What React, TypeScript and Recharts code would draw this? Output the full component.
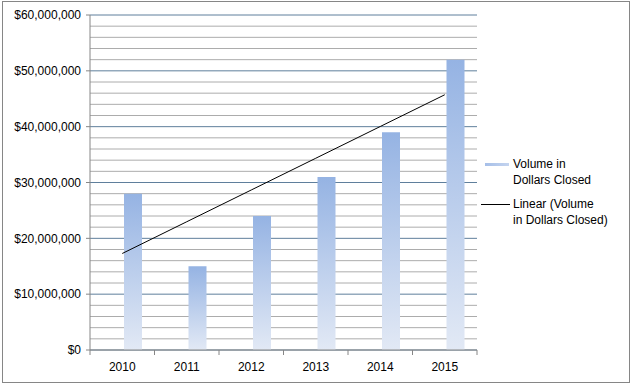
import { ComposedChart, Bar, Line, XAxis, YAxis, CartesianGrid } from "recharts";

const years = ["2010", "2011", "2012", "2013", "2014", "2015"];
const volumes = [28000000, 15000000, 24000000, 31000000, 39000000, 52000000];
const majorTicks = [0, 10000000, 20000000, 30000000, 40000000, 50000000, 60000000];
const minorTicks = [
  2000000, 4000000, 6000000, 8000000, 12000000, 14000000, 16000000, 18000000,
  22000000, 24000000, 26000000, 28000000, 32000000, 34000000, 36000000, 38000000,
  42000000, 44000000, 46000000, 48000000, 52000000, 54000000, 56000000, 58000000,
];

// excel style linear trendline (least squares over category index)
function linearTrend(values: number[]) {
  const n = values.length;
  const mx = (n + 1) / 2;
  const my = values.reduce((a, b) => a + b, 0) / n;
  let sxy = 0;
  let sxx = 0;
  values.forEach((v, i) => {
    sxy += (i + 1 - mx) * (v - my);
    sxx += (i + 1 - mx) * (i + 1 - mx);
  });
  const slope = sxy / sxx;
  return values.map((_, i) => my + slope * (i + 1 - mx));
}

const trend = linearTrend(volumes);
const data = years.map((year, i) => ({ year, volume: volumes[i], trend: trend[i] }));

const FONT = "'Liberation Sans', Arial, sans-serif";
const AXIS = "#868686";

const money = (v: number) => "$" + v.toLocaleString("en-US");

// label in the middle of the band, tick marks on the band edges like excel
function YearTick(props: any) {
  const { x, y, payload, index } = props;
  const half = payload?.offset ?? 0;
  return (
    <g>
      <line x1={x - half} x2={x - half} y1={y} y2={y + 5} stroke={AXIS} />
      {index === years.length - 1 && <line x1={x + half} x2={x + half} y1={y} y2={y + 5} stroke={AXIS} />}
      <text x={x} y={y + 21} textAnchor="middle" fill="#000" fontSize={12} fontFamily={FONT}>
        {payload.value}
      </text>
    </g>
  );
}

export default function App() {
  return (
    <div style={{ position: "absolute", left: 0, top: 0, width: 631, height: 385, background: "#fff" }}>
      <div
        style={{
          position: "absolute",
          left: 2,
          top: 1,
          width: 628,
          height: 382,
          boxSizing: "border-box",
          border: `1px solid ${AXIS}`,
        }}
      />
      <div style={{ position: "absolute", left: 0, top: 0 }}>
        <ComposedChart width={631} height={385} data={data} margin={{ top: 15, right: 154, bottom: 0, left: 0 }}>
          <defs>
            <linearGradient id="barFill" x1="0" y1="0" x2="0" y2="1">
              <stop offset="0%" stopColor="#95b3e3" />
              <stop offset="100%" stopColor="#e2e9f5" />
            </linearGradient>
          </defs>
          <CartesianGrid vertical={false} horizontalValues={minorTicks} stroke="#acacac" />
          <CartesianGrid vertical={false} horizontalValues={majorTicks} stroke="#5f7f9c" />
          <XAxis
            dataKey="year"
            interval={0}
            tickSize={0}
            tickMargin={0}
            tickLine={false}
            tick={<YearTick />}
            axisLine={{ stroke: AXIS }}
            height={35}
          />
          <YAxis
            domain={[0, 60000000]}
            ticks={majorTicks}
            tickFormatter={money}
            width={90}
            tickSize={4}
            tickMargin={5}
            axisLine={{ stroke: AXIS }}
            tickLine={{ stroke: AXIS }}
            tick={{ fill: "#000", fontSize: 12, fontFamily: FONT }}
            interval={0}
          />
          <Bar dataKey="placeholder" barSize={18} fill="none" isAnimationActive={false} legendType="none" />
          <Bar dataKey="volume" barSize={18} fill="url(#barFill)" isAnimationActive={false} />
          <Line dataKey="trend" stroke="#000" strokeWidth={1} dot={false} activeDot={false} isAnimationActive={false} />
        </ComposedChart>
      </div>
      <div
        style={{
          position: "absolute",
          left: 481,
          top: 156,
          fontFamily: FONT,
          fontSize: 12,
          lineHeight: "16px",
          color: "#000",
        }}
      >
        <div style={{ position: "relative", paddingLeft: 32 }}>
          <div
            style={{
              position: "absolute",
              left: 4,
              top: 7,
              width: 24,
              height: 3,
              background: "linear-gradient(to right, #a6bfe8, #c4d4ef)",
            }}
          />
          Volume in
          <br />
          Dollars Closed
        </div>
        <div style={{ position: "relative", paddingLeft: 32, marginTop: 8 }}>
          <div style={{ position: "absolute", left: 0, top: 8, width: 29, height: 1, background: "#000" }} />
          Linear (Volume
          <br />
          in Dollars Closed)
        </div>
      </div>
    </div>
  );
}
